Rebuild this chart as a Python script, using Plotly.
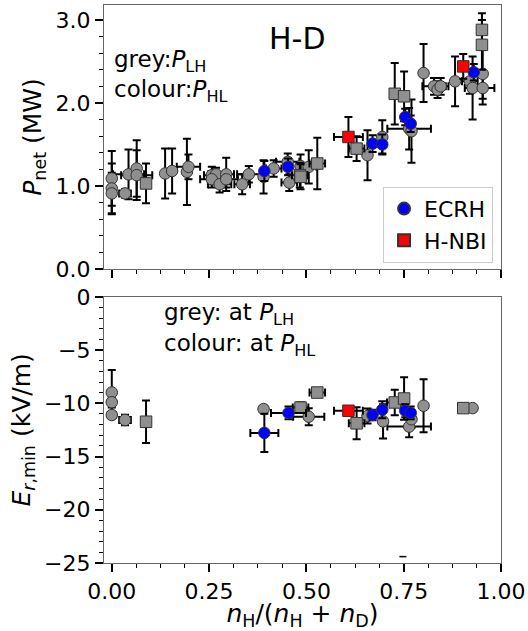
import plotly.graph_objects as go

# ---- data ----
# top panel: P_net (MW) vs n_H/(n_H+n_D); grey = at P_LH, colour = at P_HL
top_grey_c_x = [0.000, 0.000, 0.000, 0.034, 0.043, 0.064, 0.064, 0.137, 0.155, 0.193, 0.197,
                0.257, 0.268, 0.257, 0.277, 0.294, 0.294, 0.335, 0.352, 0.390, 0.416, 0.452,
                0.456, 0.485, 0.506, 0.657, 0.695, 0.764, 0.770, 0.801, 0.828, 0.837, 0.845,
                0.882, 0.920, 0.927, 0.953, 0.953]
top_grey_c_y = [1.09, 0.97, 0.91, 0.91, 1.14, 1.21, 1.13, 1.15, 1.18, 1.17, 1.23,
                1.13, 1.14, 1.08, 1.02, 1.14, 1.08, 1.02, 1.14, 1.11, 1.21, 1.29,
                1.04, 1.24, 1.23, 1.37, 1.59, 1.69, 1.66, 2.36, 2.20, 2.16, 2.20,
                2.26, 2.26, 2.18, 2.35, 2.18]
top_grey_c_ex = [0, 0, 0, 0.015, 0.04, 0, 0.04, 0, 0, 0, 0.03,
                 0.02, 0.02, 0.03, 0.03, 0.02, 0.03, 0.02, 0.03, 0, 0.02, 0.03,
                 0.02, 0, 0.02, 0, 0, 0.056, 0, 0, 0.03, 0, 0.02,
                 0, 0.02, 0.02, 0, 0.03]
top_grey_c_ey = [0.33, 0.30, 0.25, 0.05, 0.30, 0.34, 0.30, 0.30, 0.27, 0.40, 0.15,
                 0.10, 0.08, 0.10, 0.10, 0.20, 0.10, 0.12, 0.10, 0.20, 0.10, 0.10,
                 0.10, 0.14, 0.20, 0.30, 0.20, 0.25, 0.38, 0.35, 0.10, 0.10, 0.10,
                 0.30, 0.15, 0.38, 0.30, 0.20]

top_grey_s_x = [0.088, 0.483, 0.485, 0.528, 0.629, 0.727, 0.751, 0.951, 0.951]
top_grey_s_y = [1.03, 1.13, 1.11, 1.27, 1.45, 2.11, 2.08, 2.88, 2.70]
top_grey_s_ex = [0, 0.02, 0, 0.02, 0.02, 0, 0, 0, 0]
top_grey_s_ey = [0.24, 0.15, 0.15, 0.31, 0.15, 0.37, 0.30, 0.20, 0.30]

top_ecrh_x = [0.392, 0.453, 0.670, 0.695, 0.754, 0.768, 0.930]
top_ecrh_y = [1.18, 1.23, 1.51, 1.50, 1.83, 1.75, 2.37]
top_ecrh_ex = [0, 0, 0, 0, 0, 0, 0]
top_ecrh_ey = [0.12, 0.10, 0.10, 0.12, 0.10, 0.10, 0.10]

top_nbi_x = [0.608, 0.903]
top_nbi_y = [1.59, 2.44]
top_nbi_ex = [0.037, 0]
top_nbi_ey = [0.24, 0.15]

# bottom panel: E_r,min (kV/m)
bot_grey_c_x = [0.000, 0.000, 0.000, 0.034, 0.390, 0.506, 0.657, 0.697, 0.764, 0.770, 0.801, 0.927]
bot_grey_c_y = [-8.98, -9.90, -11.10, -11.57, -10.54, -11.26, -11.20, -11.70, -12.19, -11.50, -10.23, -10.45]
bot_grey_c_ex = [0, 0, 0.01, 0.015, 0, 0.04, 0, 0, 0.056, 0, 0, 0]
bot_grey_c_ey = [2.1, 0.5, 0.3, 0.5, 0.3, 0.8, 0.7, 1.6, 1.0, 0.8, 2.5, 0]

bot_grey_s_x = [0.088, 0.485, 0.528, 0.629, 0.727, 0.751, 0.903]
bot_grey_s_y = [-11.73, -10.40, -8.99, -11.88, -9.92, -9.55, -10.45]
bot_grey_s_ex = [0, 0.02, 0.02, 0.02, 0.02, 0, 0]
bot_grey_s_ey = [2.0, 0.5, 0.3, 1.5, 1.2, 2.0, 0]

bot_ecrh_x = [0.392, 0.454, 0.670, 0.695, 0.754, 0.768]
bot_ecrh_y = [-12.78, -10.91, -11.10, -10.60, -10.70, -10.90]
bot_ecrh_ex = [0.036, 0.045, 0, 0, 0, 0]
bot_ecrh_ey = [1.8, 0.6, 0.5, 0.8, 0.6, 0.6]

bot_nbi_x = [0.608]
bot_nbi_y = [-10.70]
bot_nbi_ex = [0.037]
bot_nbi_ey = [0.4]

stray_x = [0.748]
stray_y = [-24.4]

FONT = 'DejaVu Sans'
GREY = '#8f8f8f'


def pts(x, y, ex, ey, color, symbol, name, xa, ya, legend=False):
    return go.Scatter(
        x=x, y=y, mode='markers', name=name, showlegend=legend,
        xaxis=xa, yaxis=ya,
        marker=dict(color=color, symbol=symbol, size=11.5,
                    line=dict(color='#333', width=1)),
        error_x=dict(type='data', array=ex, color='black', thickness=2, width=4),
        error_y=dict(type='data', array=ey, color='black', thickness=2, width=4),
    )


fig = go.Figure()

# top panel
fig.add_trace(pts(top_grey_c_x, top_grey_c_y, top_grey_c_ex, top_grey_c_ey, GREY, 'circle', 'LH', 'x', 'y'))
fig.add_trace(pts(top_grey_s_x, top_grey_s_y, top_grey_s_ex, top_grey_s_ey, GREY, 'square', 'LH sq', 'x', 'y'))
fig.add_trace(pts(top_ecrh_x, top_ecrh_y, top_ecrh_ex, top_ecrh_ey, '#0000ff', 'circle', 'ECRH', 'x', 'y', True))
fig.add_trace(pts(top_nbi_x, top_nbi_y, top_nbi_ex, top_nbi_ey, '#ff0000', 'square', 'H-NBI', 'x', 'y', True))

# bottom panel
fig.add_trace(pts(bot_grey_c_x, bot_grey_c_y, bot_grey_c_ex, bot_grey_c_ey, GREY, 'circle', 'LH', 'x2', 'y2'))
fig.add_trace(pts(bot_grey_s_x, bot_grey_s_y, bot_grey_s_ex, bot_grey_s_ey, GREY, 'square', 'LH sq', 'x2', 'y2'))
fig.add_trace(pts(bot_ecrh_x, bot_ecrh_y, bot_ecrh_ex, bot_ecrh_ey, '#0000ff', 'circle', 'ECRH', 'x2', 'y2'))
fig.add_trace(pts(bot_nbi_x, bot_nbi_y, bot_nbi_ex, bot_nbi_ey, '#ff0000', 'square', 'H-NBI', 'x2', 'y2'))
fig.add_trace(go.Scatter(x=stray_x, y=stray_y, mode='markers', showlegend=False,
                         xaxis='x2', yaxis='y2',
                         marker=dict(symbol='line-ew', size=5, line=dict(color='black', width=1.5))))

axis_common = dict(showline=True, mirror=True, linecolor='#666', linewidth=1.2,
                   ticks='outside', tickcolor='black', tickwidth=1.5, ticklen=8,
                   showgrid=False, zeroline=False, automargin=False,
                   tickfont=dict(family=FONT, size=22, color='black'))
minor_common = dict(ticks='outside', ticklen=4, tickcolor='black', tickwidth=1.2)

fig.update_layout(
    width=528, height=631,
    margin=dict(l=104, r=27, t=5, b=68),
    plot_bgcolor='white', paper_bgcolor='white',
    font=dict(family=FONT, color='black'),
    xaxis=dict(axis_common, domain=[0, 1], anchor='y', range=[-0.02, 1.0],
               dtick=0.25, showticklabels=False,
               minor=dict(minor_common, dtick=0.0625)),
    yaxis=dict(axis_common, domain=[0.527, 1.0], anchor='x', range=[0, 3.18],
               dtick=1, tickformat='.1f',
               title=dict(text='<i>P</i><sub>net</sub> (MW)', font=dict(family=FONT, size=25), standoff=6),
               minor=dict(minor_common, dtick=0.2)),
    xaxis2=dict(axis_common, domain=[0, 1], anchor='y2', range=[-0.02, 1.0],
                dtick=0.25, tickformat='.2f',
                title=dict(text='<i>n</i><sub>H</sub>/(<i>n</i><sub>H</sub> + <i>n</i><sub>D</sub>)',
                           font=dict(family=FONT, size=25), standoff=5),
                minor=dict(minor_common, dtick=0.0625)),
    yaxis2=dict(axis_common, domain=[0, 0.477], anchor='x2', range=[-25, 0],
                dtick=5,
                title=dict(text='<i>E</i><sub><i>r</i>,min</sub> (kV/m)', font=dict(family=FONT, size=25), standoff=6),
                minor=dict(minor_common, dtick=1)),
    legend=dict(x=0.98, y=0.538, xanchor='right', yanchor='bottom',
                bgcolor='white', bordercolor='#ccc', borderwidth=1,
                font=dict(family=FONT, size=22), itemsizing='constant'),
    annotations=[
        dict(text='H-D', x=0.475, y=2.78, xref='x', yref='y', showarrow=False,
             font=dict(family=FONT, size=30)),
        dict(text='grey:<i>P</i><sub>LH</sub>', x=0.0, y=2.50, xref='x', yref='y',
             xanchor='left', showarrow=False, font=dict(family=FONT, size=23)),
        dict(text='colour:<i>P</i><sub>HL</sub>', x=0.0, y=2.14, xref='x', yref='y',
             xanchor='left', showarrow=False, font=dict(family=FONT, size=23)),
        dict(text='grey: at <i>P</i><sub>LH</sub>', x=0.128, y=-1.6, xref='x2', yref='y2',
             xanchor='left', showarrow=False, font=dict(family=FONT, size=23)),
        dict(text='colour: at <i>P</i><sub>HL</sub>', x=0.128, y=-4.5, xref='x2', yref='y2',
             xanchor='left', showarrow=False, font=dict(family=FONT, size=23)),
    ],
)

fig.write_html("out.html", post_script="document.body.style.margin='0';",
               config={'displayModeBar': False})
